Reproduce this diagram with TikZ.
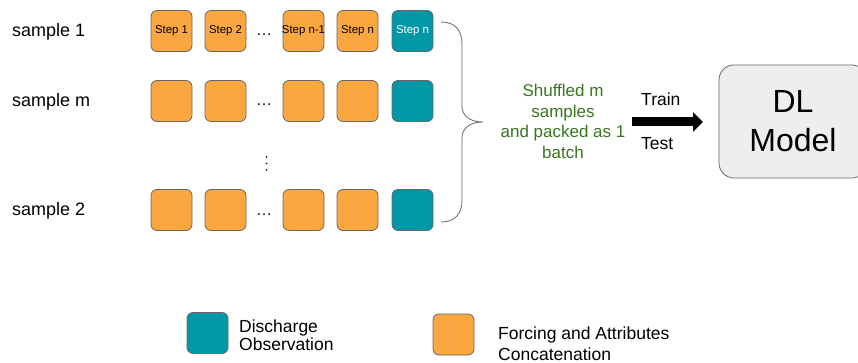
\documentclass[tikz,border=0pt]{standalone}
\usepackage{fontspec}
\setmainfont{Liberation Sans}
\usetikzlibrary{arrows.meta}

\definecolor{fillorange}{HTML}{FBA73F}
\definecolor{fillteal}{HTML}{0097A7}
\definecolor{edgegray}{HTML}{666666}
\definecolor{batchgreen}{HTML}{38761D}
\definecolor{modelgray}{HTML}{EEEEEE}
\newcommand\sizedfont[2]{\fontsize{#1}{#2}\selectfont}

\begin{document}
\begin{tikzpicture}[x=1pt,y=-1pt,
  cell/.style={draw=edgegray, line width=0.8pt, rounded corners=6pt,
    minimum width=41pt, minimum height=41pt, inner sep=0pt},
  forcing/.style={cell, fill=fillorange},
  discharge/.style={cell, fill=fillteal},
  steptext/.style={font=\sizedfont{11.4}{13}, inner sep=0pt},
  rowlabel/.style={font=\sizedfont{18}{21}, anchor=base west, inner sep=0pt},
  gap/.style={font=\sizedfont{16}{19}, anchor=base, inner sep=0pt},
  brace/.style={draw=edgegray, line width=0.8pt},
  note/.style={font=\sizedfont{17}{20.5}, text=batchgreen, align=center, inner sep=0pt},
  flowlabel/.style={font=\sizedfont{17.5}{21}, anchor=base west, inner sep=0pt},
  model/.style={draw=edgegray, line width=0.8pt, fill=modelgray, rounded corners=15pt,
    minimum width=148pt, minimum height=113pt, inner sep=0pt, align=center,
    font=\sizedfont{32}{39}},
  legendtext/.style={font=\sizedfont{17.5}{18}, anchor=west, align=left, inner sep=0pt},
  legendtextb/.style={font=\sizedfont{17.5}{21}, anchor=west, align=left, inner sep=0pt}
]
\useasboundingbox (0,0) rectangle (858,363);
\clip (0,0) rectangle (858,363);

% row labels
\node[rowlabel] (lab1) at (12,37)  {sample 1};
\node[rowlabel] (labm) at (12,107) {sample m};
\node[rowlabel] (lab2) at (12,215) {sample 2};

% first sample, with step names
\node[forcing] (a1) at (171.5,31) {};
\node[steptext] at (a1) {Step 1};
\node[forcing] (a2) at (225.5,31) {};
\node[steptext] at (a2) {Step 2};
\node[gap] (ad) at (264,36) {\dots};
\node[forcing] (a3) at (303.5,31) {};
\node[steptext] at (a3) {Step n-1};
\node[forcing] (a4) at (357.5,31) {};
\node[steptext] at (a4) {Step n};
\node[discharge] (a5) at (412.5,31) {};
\node[steptext, text=white] at (a5) {Step n};

% remaining samples
\foreach \y/\r in {101/b, 210/c} {
  \node[forcing] (\r1) at (171.5,\y) {};
  \node[forcing] (\r2) at (225.5,\y) {};
  \node[gap] (\r d) at (264,\y+5) {\dots};
  \node[forcing] (\r3) at (303.5,\y) {};
  \node[forcing] (\r4) at (357.5,\y) {};
  \node[discharge] (\r5) at (412.5,\y) {};
}

% vertical ellipsis between the rows
\foreach \y in {157,163.5,170}
  \fill[black!85] (266.5,\y) circle (1pt);

% curly brace grouping the samples
\draw[brace] (441,22) .. controls (455,22) and (462,30) .. (462,44)
  -- (462,106) .. controls (462,116) and (470,122) .. (483,122)
  .. controls (470,122) and (462,128) .. (462,138)
  -- (462,200) .. controls (462,214) and (455,222) .. (441,222);

% batching note
\node[note] (batch) at (563,121.5) {Shuffled m\\samples\\and packed as 1\\batch};

% train/test arrow
\coordinate (flowfrom) at (632,122);
\coordinate (flowto) at (703,122);
\draw[line width=9pt, -{Triangle[length=10pt,width=19pt]}] (flowfrom) -- (flowto);
\node[flowlabel] (train) at (641,106) {Train};
\node[flowlabel] (test) at (641,150) {Test};

% model
\node[model] (dl) at (793,121.5) {DL\\Model};

% legend
\node[discharge, minimum width=41pt] (keyq) at (207.5,333) {};
\node[legendtext] (keyqtext) at (239,335) {Discharge\\Observation};
\node[forcing] (keyf) at (453.5,334.5) {};
\node[legendtextb] (keyftext) at (498,344) {Forcing and Attributes\\Concatenation};
\end{tikzpicture}
\end{document}
